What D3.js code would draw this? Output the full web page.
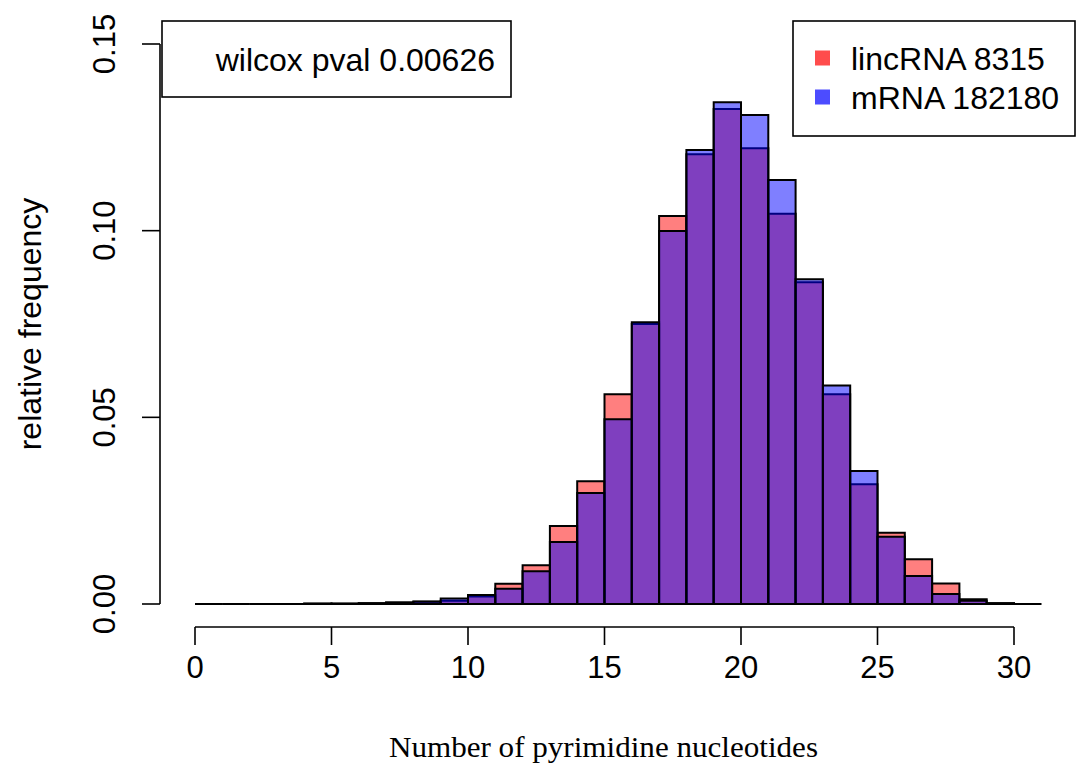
<!DOCTYPE html>
<html>
<head>
<meta charset="utf-8">
<script src="https://cdn.jsdelivr.net/npm/d3@7/dist/d3.min.js"></script>
<style>
  html, body { margin: 0; padding: 0; background: #fff; }
  svg { display: block; }
  text { font-family: "Liberation Sans", Arial, Helvetica, sans-serif; fill: #000; }
</style>
</head>
<body>
<svg id="chart" width="1078" height="767"></svg>
<script>
// Histogram bins: [i, i+1) for i = 0..30
const binStarts = d3.range(0, 31);

// Relative frequency per bin
const lincRNA = [0, 0, 0, 0, 0.0001, 0.0001, 0.0002, 0.0004, 0.0006, 0.0009,
  0.0020, 0.0054, 0.0104, 0.0209, 0.0329, 0.0562, 0.0750, 0.1039, 0.1205, 0.1326,
  0.1221, 0.1045, 0.0862, 0.0562, 0.0321, 0.0191, 0.0120, 0.0055, 0.0013, 0.0002, 0];
const mRNA = [0, 0, 0, 0, 0.0001, 0.0001, 0.0002, 0.0004, 0.0007, 0.0015,
  0.0024, 0.0041, 0.0088, 0.0166, 0.0297, 0.0495, 0.0755, 0.0999, 0.1216, 0.1344,
  0.1310, 0.1136, 0.0870, 0.0585, 0.0356, 0.0180, 0.0075, 0.0027, 0.0009, 0.0002, 0];

const xTicks = [0, 5, 10, 15, 20, 25, 30];
const yTicks = [0, 0.05, 0.10, 0.15];
const legendLabels = ["lincRNA 8315", "mRNA 182180"];
const pvalLabel = "wilcox pval 0.00626";

const svg = d3.select("#chart");

const x = d3.scaleLinear().domain([0, 30]).range([195, 1014]);
const y = d3.scaleLinear().domain([0, 0.15]).range([604, 44]);

// Bars as closed paths so zero-height bins still draw their outline
function barPath(i, v) {
  const x0 = x(i), x1 = x(i + 1), y0 = y(0), y1 = y(v);
  return `M${x0},${y0}H${x1}V${y1}H${x0}Z`;
}

const series = [
  { values: lincRNA, fill: "rgba(255,0,0,0.5)" },
  { values: mRNA, fill: "rgba(0,0,255,0.5)" }
];

series.forEach(s => {
  svg.append("g")
    .selectAll("path")
    .data(binStarts)
    .join("path")
    .attr("d", i => barPath(i, s.values[i]))
    .attr("fill", s.fill)
    .attr("stroke", "#000")
    .attr("stroke-width", 2)
    .attr("stroke-linejoin", "miter");
});

// X axis
const gx = svg.append("g").attr("transform", "translate(0,627)");
gx.append("line")
  .attr("x1", x(0)).attr("x2", x(30))
  .attr("stroke", "#000").attr("stroke-width", 1.6);
gx.selectAll("line.tick").data(xTicks).join("line")
  .attr("class", "tick")
  .attr("x1", d => x(d)).attr("x2", d => x(d))
  .attr("y1", 0).attr("y2", 18)
  .attr("stroke", "#000").attr("stroke-width", 1.6);
gx.selectAll("text").data(xTicks).join("text")
  .attr("x", d => x(d)).attr("y", 51)
  .attr("text-anchor", "middle")
  .attr("font-size", 31)
  .text(d => d);

// Y axis
const gy = svg.append("g").attr("transform", "translate(160,0)");
gy.append("line")
  .attr("y1", y(0)).attr("y2", y(0.15))
  .attr("stroke", "#000").attr("stroke-width", 1.6);
gy.selectAll("line.tick").data(yTicks).join("line")
  .attr("class", "tick")
  .attr("y1", d => y(d)).attr("y2", d => y(d))
  .attr("x1", 0).attr("x2", -18)
  .attr("stroke", "#000").attr("stroke-width", 1.6);
gy.selectAll("text").data(yTicks).join("text")
  .attr("transform", d => `translate(-45,${y(d)}) rotate(-90)`)
  .attr("text-anchor", "middle")
  .attr("font-size", 31)
  .text(d => d3.format(".2f")(d));

// Axis titles
svg.append("text")
  .attr("transform", "translate(41,324) rotate(-90)")
  .attr("text-anchor", "middle")
  .attr("font-size", 32)
  .text("relative frequency");

svg.append("text")
  .attr("x", 603.5).attr("y", 757)
  .attr("text-anchor", "middle")
  .attr("font-size", 29)
  .attr("textLength", 429)
  .attr("lengthAdjust", "spacingAndGlyphs")
  .style("font-family", "'Liberation Serif', 'DejaVu Serif', serif")
  .text("Number of pyrimidine nucleotides");

// p-value box
svg.append("rect")
  .attr("x", 162).attr("y", 21).attr("width", 349).attr("height", 76)
  .attr("fill", "#fff").attr("stroke", "#000").attr("stroke-width", 1.6);
svg.append("text")
  .attr("x", 495).attr("y", 71)
  .attr("text-anchor", "end")
  .attr("font-size", 32)
  .text(pvalLabel);

// Legend
const legend = svg.append("g");
legend.append("rect")
  .attr("x", 793).attr("y", 21).attr("width", 282).attr("height", 115)
  .attr("fill", "#fff").attr("stroke", "#000").attr("stroke-width", 1.6);
const legendFills = ["rgba(255,0,0,0.7)", "rgba(0,0,255,0.7)"];
const legendRows = legend.selectAll("g.row").data(legendLabels).join("g")
  .attr("class", "row")
  .attr("transform", (d, i) => `translate(0,${58 + i * 39})`);
legendRows.append("rect")
  .attr("x", 815).attr("y", -7.5).attr("width", 15).attr("height", 15)
  .attr("fill", (d, i) => legendFills[i]);
legendRows.append("text")
  .attr("x", 851).attr("y", 12)
  .attr("font-size", 32)
  .text(d => d);
</script>
</body>
</html>
